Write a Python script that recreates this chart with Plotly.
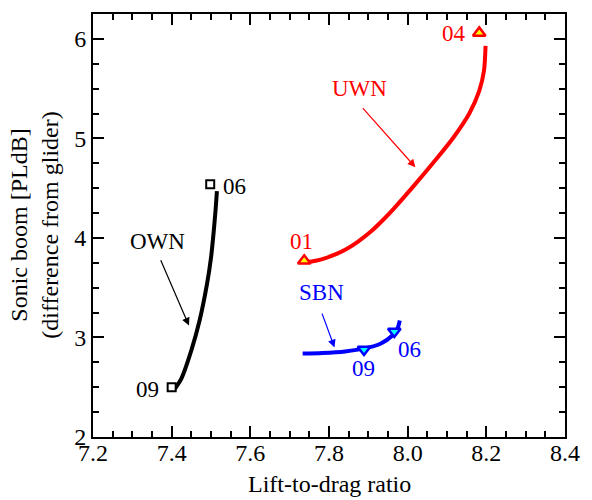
import plotly.graph_objects as go

# ---- data ----
own_x = [7.405, 7.409, 7.425, 7.450, 7.471, 7.490, 7.500, 7.507, 7.512, 7.515]
own_y = [2.47, 2.49, 2.59, 2.87, 3.17, 3.54, 3.80, 4.07, 4.30, 4.47]
own_mk_x = [7.400, 7.498]
own_mk_y = [2.50, 4.54]
own_mk_lbl = ["09", "06"]

uwn_x = [7.741, 7.766, 7.791, 7.816, 7.841, 7.873, 7.908, 7.941, 7.966, 8.016,
         8.065, 8.115, 8.157, 8.182, 8.194, 8.198]
uwn_y = [3.756, 3.771, 3.797, 3.834, 3.881, 3.961, 4.069, 4.195, 4.300, 4.526,
         4.756, 5.002, 5.253, 5.478, 5.679, 5.930]
uwn_mk_x = [7.737, 8.182]
uwn_mk_y = [3.77, 6.06]
uwn_mk_lbl = ["01", "04"]

sbn_x = [7.733, 7.783, 7.841, 7.891, 7.932, 7.961, 7.974, 7.980]
sbn_y = [2.84, 2.845, 2.86, 2.89, 2.94, 3.02, 3.09, 3.17]
sbn_mk_x = [7.889, 7.966]
sbn_mk_y = [2.88, 3.06]
sbn_mk_lbl = ["09", "06"]

x_range = [7.2, 8.4]
y_range = [2.0, 6.25]
x_title = "Lift-to-drag ratio"
y_title = "Sonic boom [PLdB]<br>(difference from glider)"

FONT = "Liberation Serif, Times New Roman, serif"

fig = go.Figure()

# lines
fig.add_trace(go.Scatter(x=own_x, y=own_y, mode="lines", line=dict(color="black", width=4, shape="spline", smoothing=0.8), showlegend=False))
fig.add_trace(go.Scatter(x=uwn_x, y=uwn_y, mode="lines", line=dict(color="#ff0000", width=4, shape="spline", smoothing=0.8), showlegend=False))
fig.add_trace(go.Scatter(x=sbn_x, y=sbn_y, mode="lines", line=dict(color="#0000ff", width=4, shape="spline", smoothing=0.8), showlegend=False))

# markers
fig.add_trace(go.Scatter(x=own_mk_x, y=own_mk_y, mode="markers",
                         marker=dict(symbol="square", size=8, color="white", line=dict(color="black", width=2)),
                         showlegend=False))
fig.add_trace(go.Scatter(x=uwn_mk_x, y=uwn_mk_y, mode="markers",
                         marker=dict(symbol="triangle-up", size=11, color="#ffff00", line=dict(color="#ff0000", width=2.5)),
                         showlegend=False))
fig.add_trace(go.Scatter(x=sbn_mk_x, y=sbn_mk_y, mode="markers",
                         marker=dict(symbol="triangle-down", size=11, color="#00ffff", line=dict(color="#0000ff", width=2.5)),
                         showlegend=False))

ann = []
# point labels
lbl_pos = [
    (own_mk_lbl[0], 7.338, 2.48, "black"),
    (own_mk_lbl[1], 7.559, 4.52, "black"),
    (uwn_mk_lbl[0], 7.729, 3.96, "#ff0000"),
    (uwn_mk_lbl[1], 8.118, 6.05, "#ff0000"),
    (sbn_mk_lbl[0], 7.887, 2.685, "#0000ff"),
    (sbn_mk_lbl[1], 8.005, 2.88, "#0000ff"),
]
for t, x, y, c in lbl_pos:
    ann.append(dict(x=x, y=y, xref="x", yref="y", text=t, showarrow=False,
                    font=dict(family=FONT, size=23, color=c), xanchor="center", yanchor="middle"))

# series names
for t, x, y, c in [("OWN", 7.365, 3.96, "black"), ("UWN", 7.878, 5.50, "#ff0000"), ("SBN", 7.781, 3.45, "#0000ff")]:
    ann.append(dict(x=x, y=y, xref="x", yref="y", text=t, showarrow=False,
                    font=dict(family=FONT, size=23, color=c), xanchor="center", yanchor="middle"))

# arrows (tip x,y ; tail ax,ay)
for (x, y, ax, ay, c) in [(7.444, 3.12, 7.3706, 3.79, "black"),
                          (8.0197, 4.71, 7.8825, 5.32, "#ff0000"),
                          (7.814, 2.90, 7.781, 3.255, "#0000ff")]:
    ann.append(dict(x=x, y=y, ax=ax, ay=ay, xref="x", yref="y", axref="x", ayref="y",
                    text="", showarrow=True, arrowhead=2, arrowsize=1.3, arrowwidth=1.2, arrowcolor=c))

# axis titles
ann.append(dict(x=0.5, y=-0.111, xref="paper", yref="paper", text=x_title, showarrow=False,
                font=dict(family=FONT, size=24, color="black"), xanchor="center", yanchor="middle"))
ann.append(dict(x=-0.1245, y=0.5, xref="paper", yref="paper", text=y_title, showarrow=False, textangle=-90,
                font=dict(family=FONT, size=24, color="black"), xanchor="center", yanchor="middle"))

axis_common = dict(showgrid=False, zeroline=False, showline=True, linecolor="black", linewidth=2,
                   mirror="ticks", ticks="inside", ticklen=11, tickwidth=2, tickcolor="black",
                   tickfont=dict(family=FONT, size=24, color="black"))

fig.update_layout(
    width=592, height=500,
    margin=dict(l=93, r=17, t=13, b=63),
    paper_bgcolor="white", plot_bgcolor="white",
    xaxis=dict(range=x_range, dtick=0.2, tick0=7.2, tickformat=".1f", ticklabelstandoff=-7,
               minor=dict(dtick=0.05, ticks="inside", ticklen=6, tickwidth=2, tickcolor="black", showgrid=False),
               **axis_common),
    yaxis=dict(range=y_range, dtick=1, tick0=2,
               minor=dict(dtick=0.25, ticks="inside", ticklen=6, tickwidth=2, tickcolor="black", showgrid=False),
               **axis_common),
    annotations=ann,
)

fig.write_html("out.html")
